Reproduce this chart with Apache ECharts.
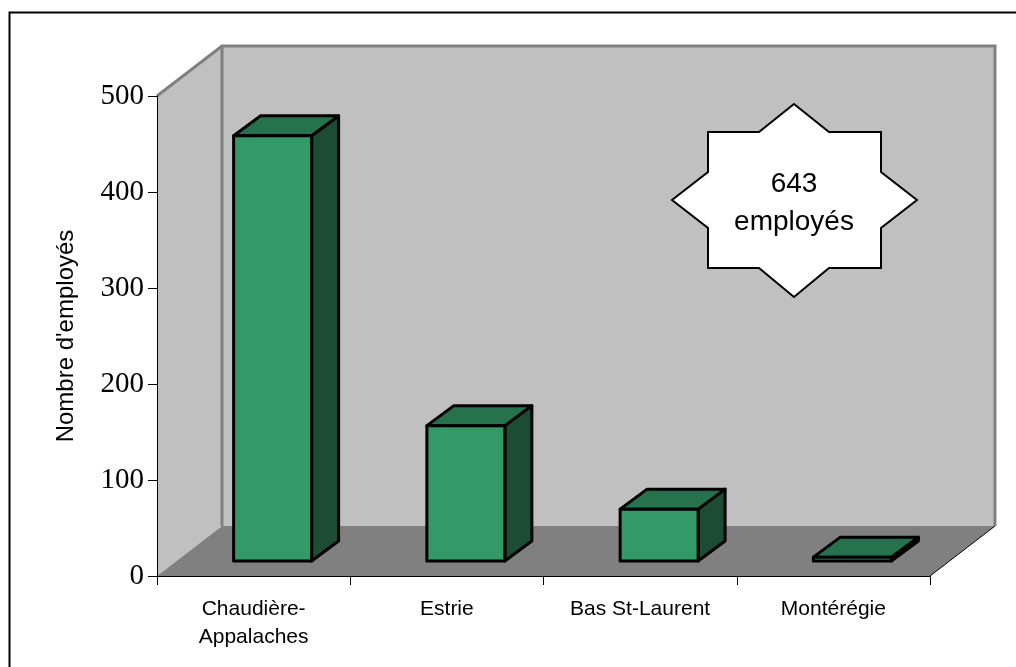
<!DOCTYPE html>
<html>
<head>
<meta charset="utf-8">
<title>Nombre d'employés par région</title>
<style>
html, body { margin: 0; padding: 0; background: #fff; }
#chart { width: 1016px; height: 667px; }
</style>
</head>
<body>
<div id="chart"></div>
<script src="https://cdn.jsdelivr.net/npm/echarts@6/dist/echarts.min.js"></script>
<script>
const regions = ['Chaudière-\nAppalaches', 'Estrie', 'Bas St-Laurent', 'Montérégie']
const employes = [443, 141, 54, 4]
const yTicks = [0, 100, 200, 300, 400, 500]
const totalLabel = '643\nemployés'

// décalage de la perspective (mur du fond / plancher)
const depthX = 65
const depthY = 50
const barWidth = 78

const chart = echarts.init(document.getElementById('chart'))

const wallItem = (params, api) => {
    const p0 = api.coord([0, 0])
    const grid = params.coordSys
    const left = grid.x
    const right = grid.x + grid.width
    const base = p0[1]
    const top = grid.y
    const backLeft = left + depthX
    const backRight = right + depthX
    const backTop = top - depthY
    const backBase = base - depthY
    return {
        type: 'group',
        children: [
            // mur gauche
            { type: 'polygon', shape: { points: [[left, base], [left, top], [backLeft, backTop], [backLeft, backBase]] }, style: { fill: '#c0c0c0' } },
            // mur du fond
            { type: 'polygon', shape: { points: [[backLeft, backTop], [backRight, backTop], [backRight, backBase], [backLeft, backBase]] }, style: { fill: '#c0c0c0' } },
            // contour gris des murs
            { type: 'polyline', shape: { points: [[left, top], [backLeft, backTop], [backRight, backTop], [backRight, backBase]] }, style: { fill: null, stroke: '#808080', lineWidth: 3 } },
            { type: 'line', shape: { x1: backLeft, y1: backTop, x2: backLeft, y2: backBase }, style: { stroke: '#808080', lineWidth: 3 } },
            // plancher
            { type: 'polygon', shape: { points: [[left, base], [backLeft, backBase], [backRight, backBase], [right, base]] }, style: { fill: '#808080' } },
            // bord droit du plancher
            { type: 'line', shape: { x1: right, y1: base, x2: backRight, y2: backBase }, style: { stroke: '#000', lineWidth: 1 } }
        ]
    }
}

const barItem = (params, api) => {
    const top = api.coord([api.value(0), api.value(1)])
    const base = api.coord([api.value(0), 0])
    // les barres sont posées au milieu du plancher
    const dx = 19
    const dy = 15
    const sx = 27
    const sy = 20
    const x0 = top[0] - barWidth / 2 + dx
    const x1 = x0 + barWidth
    const yTop = top[1] - dy
    const yBase = base[1] - dy
    const edge = { stroke: '#000', lineWidth: 3, lineJoin: 'round' }
    return {
        type: 'group',
        children: [
            { type: 'polygon', shape: { points: [[x1, yTop], [x1 + sx, yTop - sy], [x1 + sx, yBase - sy], [x1, yBase]] }, style: { fill: '#1c4c33', ...edge } },
            { type: 'polygon', shape: { points: [[x0, yTop], [x0 + sx, yTop - sy], [x1 + sx, yTop - sy], [x1, yTop]] }, style: { fill: '#26724c', ...edge } },
            { type: 'rect', shape: { x: x0, y: yTop, width: barWidth, height: yBase - yTop }, style: { fill: '#339966', ...edge } }
        ]
    }
}

const option = {
    animation: false,
    backgroundColor: '#fff',
    grid: { left: 157, top: 96, width: 773, height: 480 },
    xAxis: {
        type: 'category',
        z: 5,
        data: regions,
        axisLine: { lineStyle: { color: '#000', width: 1 } },
        axisTick: { show: true, interval: 0, alignWithLabel: false, length: 9, lineStyle: { color: '#000' } },
        axisLabel: {
            color: '#000',
            fontFamily: 'Liberation Sans',
            fontSize: 21,
            lineHeight: 28,
            margin: 19,
            interval: 0
        }
    },
    yAxis: {
        type: 'value',
        z: 5,
        min: yTicks[0],
        max: yTicks[yTicks.length - 1],
        interval: 100,
        name: "Nombre d'employés",
        nameLocation: 'middle',
        nameRotate: 90,
        nameGap: 79,
        nameTextStyle: { color: '#000', fontFamily: 'Liberation Sans', fontSize: 24 },
        splitLine: { show: false },
        axisLine: { show: true, lineStyle: { color: '#000', width: 1 } },
        axisTick: { show: true, length: 9, lineStyle: { color: '#000' } },
        axisLabel: { color: '#000', fontFamily: 'Liberation Serif', fontSize: 29, margin: 13, padding: [3, 0, 0, 0] }
    },
    series: [
        {
            type: 'custom',
            silent: true,
            z: 1,
            clip: false,
            data: [[0, 0]],
            renderItem: wallItem
        },
        {
            type: 'custom',
            z: 2,
            clip: false,
            data: regions.map((r, i) => [i, employes[i]]),
            encode: { x: 0, y: 1 },
            renderItem: barItem
        }
    ],
    graphic: [
        // cadre
        { type: 'polyline', shape: { points: [[9.5, 667], [9.5, 12.5], [1016, 12.5]] }, style: { stroke: '#000', fill: null, lineWidth: 2 }, z: 0 },
        // étoile
        {
            type: 'polygon',
            z: 10,
            shape: { points: [[794, 104], [829, 132], [881, 132], [881, 172], [917, 200], [881, 228], [881, 268], [829, 268], [794, 297], [759, 268], [708, 268], [708, 228], [672, 200], [708, 172], [708, 132], [759, 132]] },
            style: { fill: '#fff', stroke: '#000', lineWidth: 2 }
        },
        {
            type: 'text',
            z: 11,
            x: 794,
            y: 203,
            style: { text: totalLabel, fill: '#000', fontFamily: 'Liberation Sans', fontSize: 28, lineHeight: 38, align: 'center', verticalAlign: 'middle' }
        }
    ]
}

chart.setOption(option)
</script>
</body>
</html>
